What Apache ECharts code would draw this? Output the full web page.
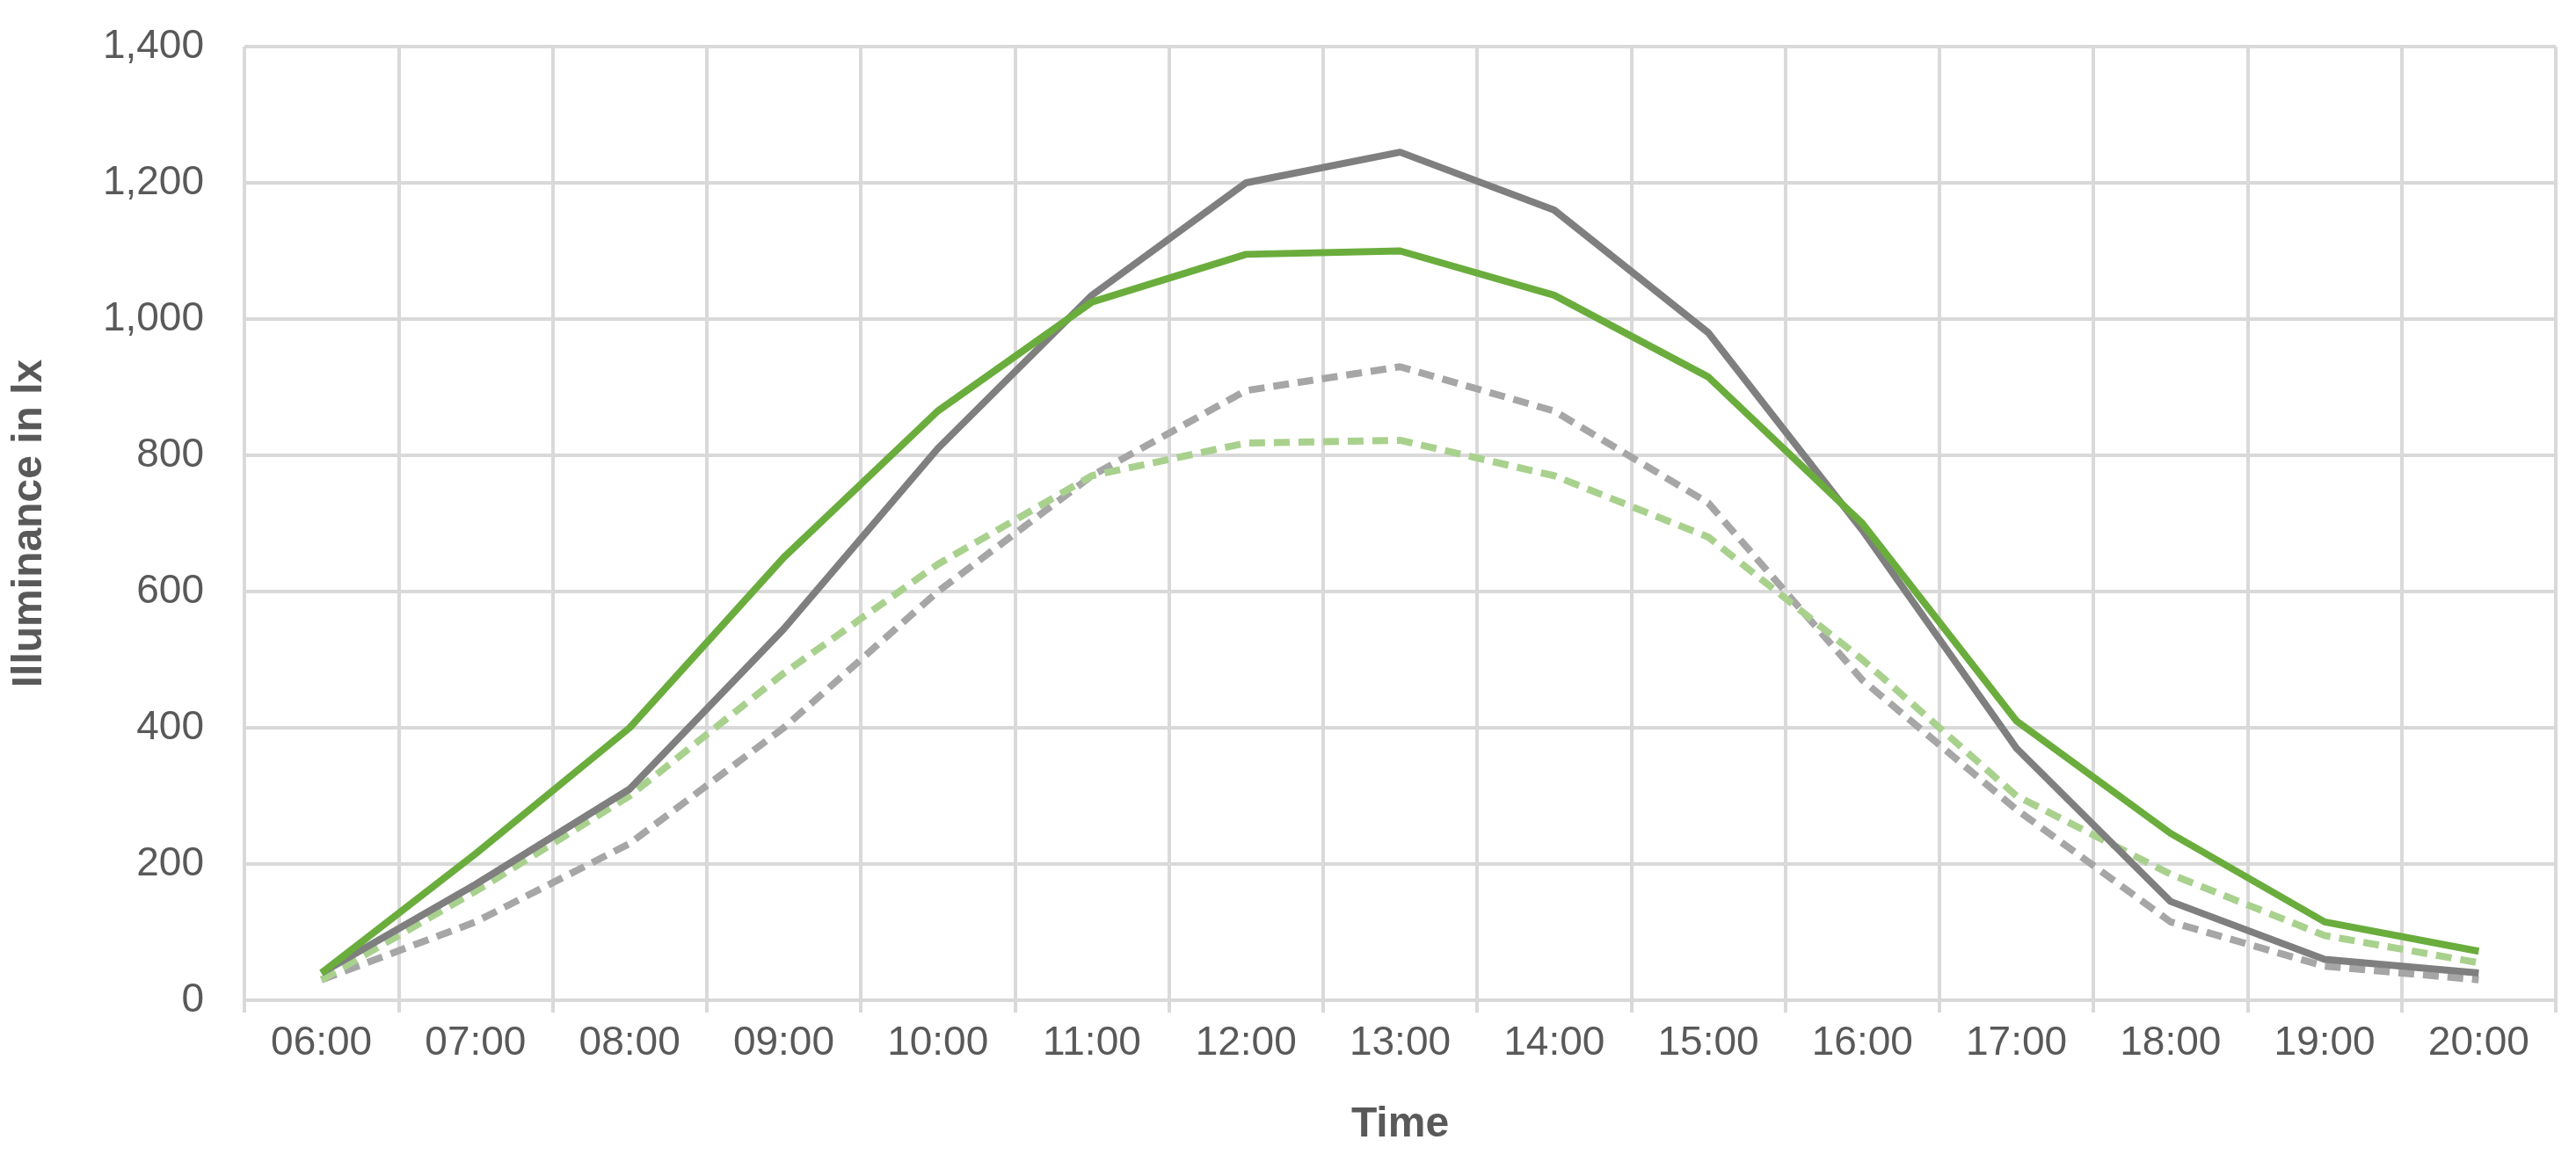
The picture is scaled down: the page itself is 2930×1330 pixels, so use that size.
<!DOCTYPE html>
<html><head><meta charset="utf-8">
<script src="https://cdn.jsdelivr.net/npm/echarts@6/dist/echarts.min.js"></script>
<style>html,body{margin:0;background:#fff}#c{width:2930px;height:1330px}</style>
</head><body><div id="c"></div>
<script>
const categories = ['06:00','07:00','08:00','09:00','10:00','11:00','12:00','13:00','14:00','15:00','16:00','17:00','18:00','19:00','20:00'];
const greenSolid = [40,215,400,650,865,1025,1095,1100,1035,915,700,410,245,115,72];
const graySolid = [40,170,310,545,810,1035,1200,1245,1160,980,690,370,145,60,40];
const grayDashed = [30,115,230,400,600,770,895,930,865,730,470,280,115,50,30];
const greenDashed = [30,160,300,480,640,770,818,822,770,680,500,300,185,95,55];
const yTicks = [0,200,400,600,800,1000,1200,1400];

function s(name, data, color, type){
  return {name, type:'line', data, symbol:'none', z: type==='solid'?3:2,
    lineStyle:{color, width:8, type: type==='solid'?'solid':[18,10]}};
}
const chart = echarts.init(document.getElementById('c'));
chart.setOption({
  animation:false,
  grid:{left:278, right:23, top:53, bottom:192, containLabel:false},
  xAxis:{type:'category', data:categories, boundaryGap:true,
    name:'Time', nameLocation:'middle', nameGap:118,
    nameTextStyle:{fontFamily:'Liberation Sans', fontWeight:'bold', fontSize:48, color:'#595959'},
    axisLine:{lineStyle:{color:'#d9d9d9', width:4}}, axisTick:{show:true, alignWithLabel:false, length:14, lineStyle:{color:'#d9d9d9', width:4}},
    axisLabel:{fontFamily:'Liberation Sans', fontSize:46, color:'#595959', margin:26},
    splitLine:{show:true, lineStyle:{color:'#d9d9d9', width:4}}},
  yAxis:{type:'value', min:yTicks[0], max:yTicks[yTicks.length-1], interval:200,
    name:'Illuminance in lx', nameLocation:'middle', nameGap:220, nameRotate:90,
    nameTextStyle:{fontFamily:'Liberation Sans', fontWeight:'bold', fontSize:48, color:'#595959'},
    axisLine:{show:false}, axisTick:{show:false},
    axisLabel:{fontFamily:'Liberation Sans', fontSize:46, color:'#595959', margin:46},
    splitLine:{lineStyle:{color:'#d9d9d9', width:4}}},
  series:[
    s('Gray dashed', grayDashed, '#a6a6a6', 'dashed'),
    s('Green dashed', greenDashed, '#a9d18e', 'dashed'),
    s('Gray solid', graySolid, '#7f7f7f', 'solid'),
    s('Green solid', greenSolid, '#6aad3d', 'solid')
  ]
});
</script></body></html>
